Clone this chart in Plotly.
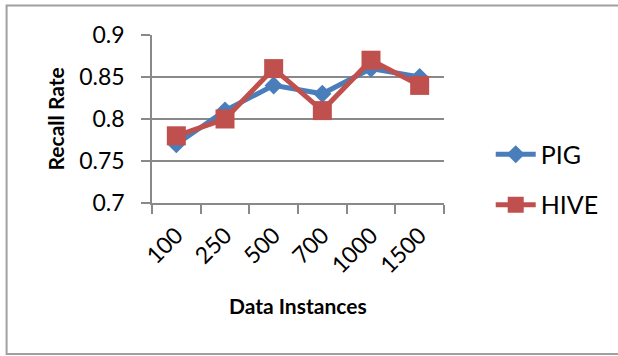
import plotly.graph_objects as go

categories = ["100", "250", "500", "700", "1000", "1500"]
pig = [0.77, 0.81, 0.84, 0.83, 0.86, 0.85]
hive = [0.78, 0.80, 0.86, 0.81, 0.87, 0.84]
y_ticks = [0.7, 0.75, 0.8, 0.85, 0.9]
y_tick_text = ["0.7", "0.75", "0.8", "0.85", "0.9"]

FONT = "Lato, sans-serif"
GRID = "#898989"
BLUE = "#4a7ebb"
RED = "#c0504d"

fig = go.Figure()
fig.add_trace(go.Scatter(
    x=categories, y=pig, name="PIG", mode="lines+markers", legendgroup="a",
    line=dict(color=BLUE, width=5),
    marker=dict(symbol="diamond", size=14, color=BLUE),
))
fig.add_trace(go.Scatter(
    x=categories, y=hive, name="HIVE", mode="lines+markers", legendgroup="b",
    line=dict(color=RED, width=5),
    marker=dict(symbol="square", size=19, color=RED),
))

fig.update_layout(
    width=618, height=356,
    margin=dict(l=152, r=174, t=35, b=153),
    paper_bgcolor="white", plot_bgcolor="white",
    font=dict(family=FONT, color="#000000"),
    showlegend=True,
    legend=dict(
        x=1.16, y=0.14, xanchor="left", yanchor="middle",
        font=dict(size=25, family=FONT),
        itemwidth=40, tracegroupgap=15,
        bgcolor="rgba(0,0,0,0)",
    ),
    xaxis=dict(
        type="category", tickson="boundaries",
        range=[-0.5, 5.5],
        ticks="outside", ticklen=9, tickwidth=1.5, tickcolor=GRID,
        showline=True, linecolor=GRID, linewidth=1.5,
        showgrid=False, zeroline=False,
        tickangle=-45, tickfont=dict(size=23, family=FONT),
        ticklabelstandoff=8,
    ),
    yaxis=dict(
        range=[0.7, 0.9], tickvals=y_ticks, ticktext=y_tick_text,
        ticks="outside", ticklen=9, tickwidth=1.5, tickcolor=GRID,
        showline=True, linecolor=GRID, linewidth=1.5,
        showgrid=True, gridcolor=GRID, gridwidth=1.5,
        zeroline=False,
        tickfont=dict(size=23, family=FONT),
        ticklabelstandoff=12,
    ),
    annotations=[
        dict(
            text="<b>Recall Rate</b>", textangle=-90,
            xref="paper", yref="paper", x=-0.329, y=0.503,
            xanchor="center", yanchor="middle", showarrow=False,
            font=dict(size=21, family=FONT),
        ),
        dict(
            text="<b>Data Instances</b>",
            xref="paper", yref="paper", x=0.5, y=-0.613,
            xanchor="center", yanchor="middle", showarrow=False,
            font=dict(size=21, family=FONT),
        ),
    ],
    shapes=[dict(
        type="rect", xref="paper", yref="paper",
        x0=-0.498, x1=2.0, y0=-0.899, y1=1.176,
        line=dict(color="#a0a0a0", width=2), fillcolor="rgba(0,0,0,0)",
        layer="below",
    )],
)

fig.write_html("out.html")
